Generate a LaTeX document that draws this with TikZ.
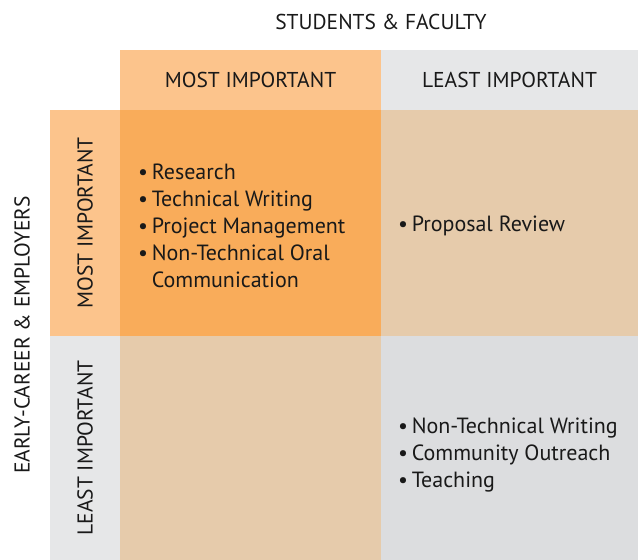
\documentclass[tikz,border=0pt]{standalone}
\usepackage{fontspec}
\setmainfont{PT Sans}
\begin{document}
\begin{tikzpicture}[x=1pt,y=-1pt,
  label/.style={font=\fontsize{21.5}{24}\selectfont,text=black!90},
  items/.style={font=\fontsize{22}{27}\selectfont,align=left,anchor=west,inner sep=0pt,text=black!90}]
\definecolor{lightorange}{HTML}{FCC48C}
\definecolor{strongorange}{HTML}{F9AC5A}
\definecolor{tan}{HTML}{E6CBAB}
\definecolor{lightgray}{HTML}{E6E7E8}
\definecolor{cellgray}{HTML}{DCDDDF}
\useasboundingbox (0,0) rectangle (638,560);
% header cells
\fill[lightorange] (120,50) rectangle (381,110);
\fill[lightgray] (381,50) rectangle (638,110);
% row label cells
\fill[lightorange] (50,110) rectangle (120,336);
\fill[lightgray] (50,336) rectangle (120,560);
% quadrant cells
\fill[strongorange] (120,110) rectangle (381,336);
\fill[tan] (381,110) rectangle (638,336);
\fill[tan] (120,336) rectangle (381,560);
\fill[cellgray] (381,336) rectangle (638,560);
% axis titles
\node[label] (top) at (381,22) {STUDENTS \& FACULTY};
\node[label,rotate=90] (left) at (22,335) {EARLY-CAREER \& EMPLOYERS};
% column and row headings
\node[label] (cmost) at (250.5,80) {MOST IMPORTANT};
\node[label] (cleast) at (509.5,80) {LEAST IMPORTANT};
\node[label,rotate=90] (rmost) at (85,223) {MOST IMPORTANT};
\node[label,rotate=90] (rleast) at (85,448) {LEAST IMPORTANT};
% quadrant contents
\node[items] (q11) at (138,226) {\textbullet\,Research\\\textbullet\,Technical Writing\\\textbullet\,Project Management\\\textbullet\,Non-Technical Oral\\\phantom{\textbullet\,}Communication};
\node[items] (q12) at (398,226) {\textbullet\,Proposal Review};
\node[items] (q22) at (398,455) {\textbullet\,Non-Technical Writing\\\textbullet\,Community Outreach\\\textbullet\,Teaching};
\end{tikzpicture}
\end{document}
